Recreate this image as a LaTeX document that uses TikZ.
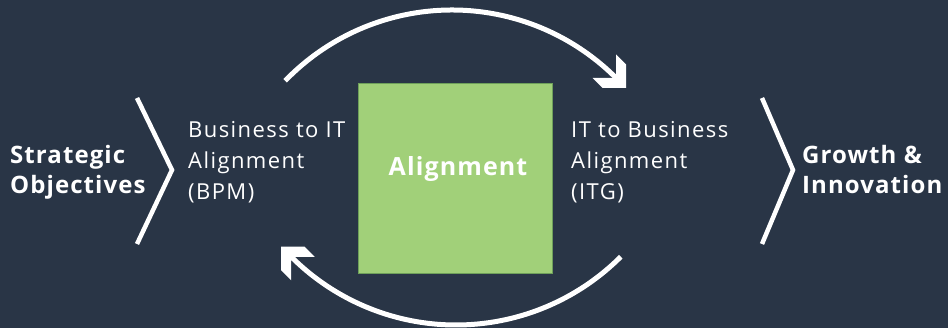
\documentclass[tikz,border=0pt]{standalone}
\usepackage{fontspec}
\setmainfont{Open Sans}[LetterSpace=4.5]
\usetikzlibrary{calc}
\definecolor{bg}{RGB}{41,53,70}
\definecolor{leaf}{RGB}{161,208,121}
\definecolor{leafedge}{RGB}{110,160,90}
\begin{document}
\begin{tikzpicture}[x=1pt,y=1pt,
  boldtext/.style={font=\fontsize{24}{30}\selectfont\bfseries, text=white, align=left, inner sep=0pt},
  plaintext/.style={font=\fontsize{22}{31}\selectfont\addfontfeatures{LetterSpace=6.5}, text=white, align=left, inner sep=0pt},
  chevron/.style={draw=white, line width=4.5pt, line join=miter},
  arcline/.style={draw=white, line width=5pt},
  headfill/.style={fill=white},
  box/.style={fill=leaf, draw=leafedge, line width=0.8pt, minimum width=194pt, minimum height=190pt, inner sep=0pt}]
\fill[bg] (0,0) rectangle (948,328);
\useasboundingbox (0,0) rectangle (948,328);

% square
\node[box] (sq) at (455,150) {};
\node[font=\fontsize{25}{30}\selectfont\bfseries, text=white, inner sep=0pt, anchor=base] (al) at (458,152) {Alignment};

% text blocks (base anchor = last line's baseline)
\node[boldtext, anchor=base west] (strat) at (10,134) {Strategic\\Objectives};
\node[plaintext, anchor=base west] (bpm) at (188,128) {Business to IT\\Alignment\\(BPM)};
\node[plaintext, anchor=base west] (itg) at (571,128) {IT to Business\\Alignment\\(ITG)};
\node[boldtext, anchor=base west] (grow) at (802,134) {Growth \&\\Innovation};

% chevrons
\coordinate (c1a) at (137,230); \coordinate (c1b) at (172,158); \coordinate (c1c) at (137,84);
\draw[chevron] (c1a) -- (c1b) -- (c1c);
\coordinate (c2a) at (762,230); \coordinate (c2b) at (793,158); \coordinate (c2c) at (762,84);
\draw[chevron] (c2a) -- (c2b) -- (c2c);

% upper arc
\coordinate (o1) at (452,86);
\coordinate (a1s) at ($(o1)+(136:232)$);
\coordinate (a1e) at ($(o1)+(45:232)$);
\draw[arcline] (a1s) arc[start angle=136, end angle=43, radius=232];
\fill[headfill] (a1e) -- ++(0,23.5) -- ++(10,-10) -- ++(0,-23.5) -- ++(-23.5,0) -- ++(-10,10) -- cycle;

% lower arc
\coordinate (o2) at (456,236);
\coordinate (a2s) at ($(o2)+(-45:233)$);
\coordinate (a2e) at ($(o2)+(-135:233)$);
\draw[arcline] (a2s) arc[start angle=-45, end angle=-137, radius=233];
\fill[headfill] (a2e) -- ++(23.5,0) -- ++(-10,10) -- ++(-23.5,0) -- ++(0,-23.5) -- ++(10,-10) -- cycle;
\end{tikzpicture}
\end{document}
